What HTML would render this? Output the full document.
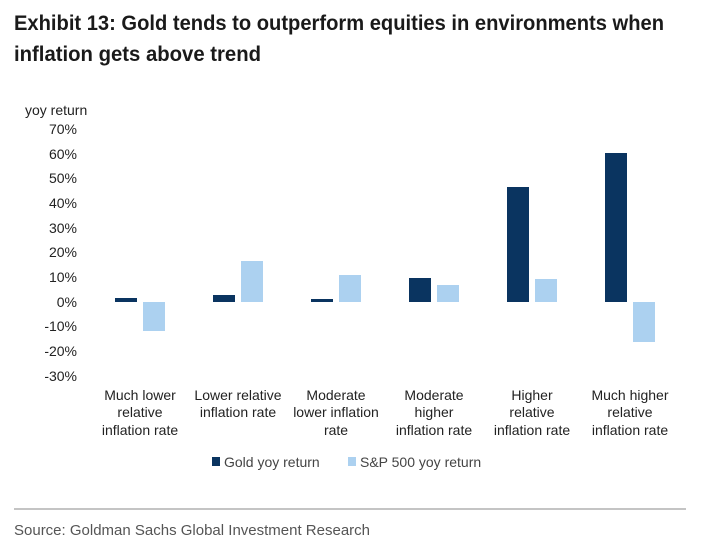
<!DOCTYPE html>
<html><head><style>body{margin:0;background:#fff}</style></head><body>
<svg width="720" height="549" xmlns="http://www.w3.org/2000/svg" font-family="Liberation Sans, Arial, sans-serif">
<rect width="720" height="549" fill="#fff"/>
<text x="14" y="30" font-size="21" font-weight="bold" fill="#1a1a1a" textLength="650" lengthAdjust="spacingAndGlyphs">Exhibit 13: Gold tends to outperform equities in environments when</text>
<text x="14" y="61" font-size="21" font-weight="bold" fill="#1a1a1a" textLength="247" lengthAdjust="spacingAndGlyphs">inflation gets above trend</text>
<g font-size="14" fill="#222">
<text x="25" y="115">yoy return</text>
<g text-anchor="end">
<text x="77" y="134">70%</text><text x="77" y="159">60%</text><text x="77" y="183">50%</text>
<text x="77" y="208">40%</text><text x="77" y="233">30%</text><text x="77" y="257">20%</text>
<text x="77" y="282">10%</text><text x="77" y="307">0%</text><text x="77" y="331">-10%</text>
<text x="77" y="356">-20%</text><text x="77" y="381">-30%</text>
</g>
</g>
<g fill="#0a3460">
<rect x="115" y="298" width="22" height="4"/>
<rect x="213" y="295" width="22" height="7"/>
<rect x="311" y="299" width="22" height="3"/>
<rect x="409" y="278" width="22" height="24"/>
<rect x="507" y="187" width="22" height="115"/>
<rect x="605" y="153" width="22" height="149"/>
</g>
<g fill="#acd1f0">
<rect x="143" y="302" width="22" height="29"/>
<rect x="241" y="261" width="22" height="41"/>
<rect x="339" y="275" width="22" height="27"/>
<rect x="437" y="285" width="22" height="17"/>
<rect x="535" y="279" width="22" height="23"/>
<rect x="633" y="302" width="22" height="40"/>
</g>
<g font-size="14" fill="#222" text-anchor="middle">
<text x="140" y="400">Much lower</text><text x="140" y="417">relative</text><text x="140" y="435">inflation rate</text>
<text x="238" y="400">Lower relative</text><text x="238" y="417">inflation rate</text>
<text x="336" y="400">Moderate</text><text x="336" y="417">lower inflation</text><text x="336" y="435">rate</text>
<text x="434" y="400">Moderate</text><text x="434" y="417">higher</text><text x="434" y="435">inflation rate</text>
<text x="532" y="400">Higher</text><text x="532" y="417">relative</text><text x="532" y="435">inflation rate</text>
<text x="630" y="400">Much higher</text><text x="630" y="417">relative</text><text x="630" y="435">inflation rate</text>
</g>
<rect x="212" y="457" width="8" height="9" fill="#0a3460"/>
<text x="224" y="467" font-size="14" fill="#444">Gold yoy return</text>
<rect x="348" y="457" width="8" height="9" fill="#acd1f0"/>
<text x="360" y="467" font-size="14" fill="#444">S&amp;P 500 yoy return</text>
<line x1="14" y1="509" x2="686" y2="509" stroke="#888" stroke-width="1"/>
<text x="14" y="535" font-size="15" fill="#555">Source: Goldman Sachs Global Investment Research</text>
</svg>
</body></html>
